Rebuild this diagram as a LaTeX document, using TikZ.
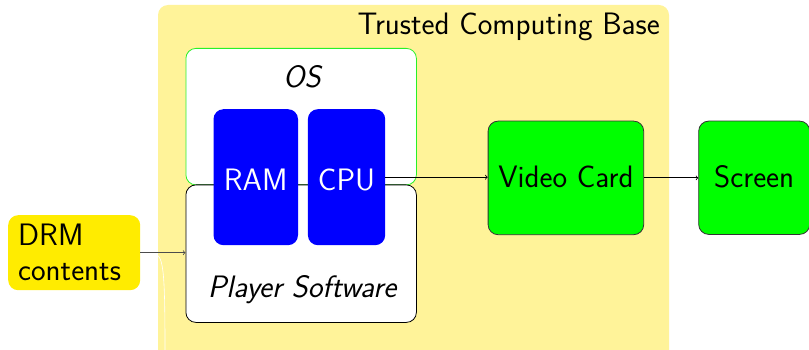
\documentclass[tikz,border=0pt]{standalone}
\usepackage{fontspec}
\begin{document}
\begin{tikzpicture}[x=1pt,y=-1pt,
  font=\sffamily\fontsize{31}{36}\selectfont,
  box/.style={rounded corners=10pt, inner sep=0pt, anchor=north west},
  lbl/.style={anchor=base, inner sep=0pt},
  conn/.style={->, line width=0.8pt, black}]
\definecolor{tcbfill}{RGB}{255,243,153}
\definecolor{drmfill}{RGB}{255,236,0}
\definecolor{osline}{RGB}{40,240,40}
\useasboundingbox (0,0) rectangle (809,350);

% trusted computing base area
\fill[tcbfill, rounded corners=10pt] (158,5) rectangle (669,362);
\node[lbl, anchor=base east] (tcbtitle) at (660,35) {Trusted Computing Base};

% operating system and player software
\node[box, draw=osline, line width=0.8pt, fill=white,
      minimum width=230.5pt, minimum height=136.5pt] (os) at (185.5,48) {};
\node[box, draw=black, line width=0.8pt, fill=white,
      minimum width=230.5pt, minimum height=137.5pt] (player) at (185.5,184.5) {};
\node[lbl] (oslbl) at (302,88) {\itshape OS};
\node[lbl] (playerlbl) at (302,297) {\itshape Player Software};

% hardware inside
\node[box, fill=blue, minimum width=84.5pt, minimum height=136pt] (ram) at (213.3,109) {};
\node[box, fill=blue, minimum width=77.3pt, minimum height=136pt] (cpu) at (307.7,109) {};
\node[lbl, text=white] (ramlbl) at (ram.center |- 0,190) {RAM};
\node[lbl, text=white] (cpulbl) at (cpu.center |- 0,190) {CPU};

% output devices
\node[box, draw=black!80, line width=0.8pt, fill=green,
      minimum width=155.6pt, minimum height=113.6pt] (video) at (487.7,120.7) {};
\node[lbl] (videolbl) at (video.center |- 0,188) {Video Card};
\node[box, draw=black!80, line width=0.8pt, fill=green,
      minimum width=111pt, minimum height=113.3pt] (screen) at (698.3,120.7) {};
\node[lbl] (screenlbl) at (screen.center |- 0,188) {Screen};

% protected input
\node[box, fill=drmfill, minimum width=132pt, minimum height=75pt] (drm) at (8,215) {};
\node[lbl, anchor=base west] (drmlbl1) at (18,245) {DRM};
\node[lbl, anchor=base west] (drmlbl2) at (18,280) {contents};

% connectors
\coordinate (bend) at (165,350);
\draw[white, line width=0.6pt] (152,253.5) .. controls (163,254) and (165,262) .. (bend);
\draw[->, line width=0.8pt, black!70] (drm.east) -- (drm.east -| player.west);
\draw[conn] (cpu.east) -- (cpu.east -| video.west);
\draw[conn] (video.east) -- (video.east -| screen.west);
\end{tikzpicture}
\end{document}
